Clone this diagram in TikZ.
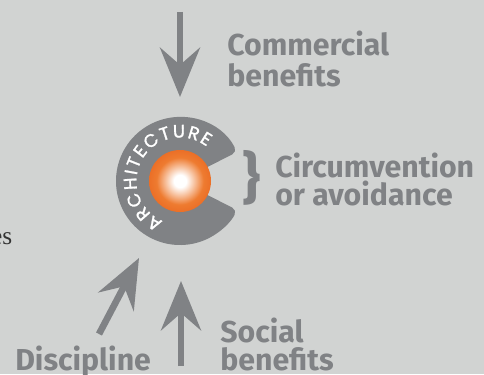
\documentclass[tikz,border=0pt]{standalone}
\usepackage{fontspec}
\setmainfont{Fira Sans}
\newfontfamily\ringfont{Poppins}[FakeBold=1.5]
\newfontfamily\seriffont{Liberation Serif}
\usetikzlibrary{arrows.meta,decorations.text}
\definecolor{bg}{HTML}{D1D3D2}
\definecolor{gry}{HTML}{808285}
\definecolor{orng}{HTML}{EE7B30}
\definecolor{orngd}{HTML}{EB6F27}
\pgfdeclareradialshading{orb}{\pgfpoint{0bp}{0bp}}{color(0bp)=(white); color(5bp)=(white); color(19bp)=(orng); color(25bp)=(orngd); color(50bp)=(orngd)}
\begin{document}
\begin{tikzpicture}[x=0.75pt,y=0.75pt,
  lbl/.style={font=\fontsize{22.7pt}{26pt}\selectfont\bfseries, text=gry, anchor=base west, inner sep=0pt},
  bigarrow/.style={draw=gry, line width=5pt, -{Stealth[length=37pt,width=30pt,inset=13pt]}}]
\fill[bg] (0,0) rectangle (484,-374);
\useasboundingbox (0,0) rectangle (484,-374);
% arrows
\coordinate (ctop) at (180,-12);
\coordinate (ctip) at (180,-97);
\coordinate (stail) at (181,-366);
\coordinate (stip) at (181,-281);
\coordinate (dtail) at (99,-334);
\coordinate (dtip) at (139,-258);
\draw[bigarrow] (ctop) -- (ctip);
\draw[bigarrow] (stail) -- (stip);
\draw[bigarrow] (dtail) -- (dtip);
% ring
\coordinate (c) at (180,-181);
\fill[gry, rounded corners=4pt] (c) -- ++(27:64) arc[start angle=27, end angle=333, radius=64] -- cycle;
\node[circle, minimum size=46.5pt, inner sep=0pt, shading=orb] (core) at (c) {};
\path[decorate, decoration={text along path, text={|\ringfont\fontsize{13.5pt}{14pt}\selectfont|ARCHITECTURE}, text color=white, text align={fit to path}}] (c) ++(247:43.5) arc[start angle=247, end angle=52, radius=43.5];
% labels
\node[lbl] (com) at (227,-56) {Commercial};
\node[lbl] (comb) at (227,-87) {benefits};
\node[lbl, anchor=center, font=\fontsize{42pt}{42pt}\selectfont\bfseries] (brace) at (252,-178) {\}};
\node[lbl] (cir) at (275,-177) {Circumvention};
\node[lbl] (cirb) at (275,-205) {or avoidance};
\node[lbl] (soc) at (220,-342) {Social};
\node[lbl] (socb) at (220,-370) {benefits};
\node[lbl] (dis) at (15,-370) {Discipline};
\node[font=\seriffont\fontsize{19pt}{19pt}\selectfont, text=black!80, anchor=base east, inner sep=0pt] (es) at (12.5,-244) {es};
\end{tikzpicture}
\end{document}
